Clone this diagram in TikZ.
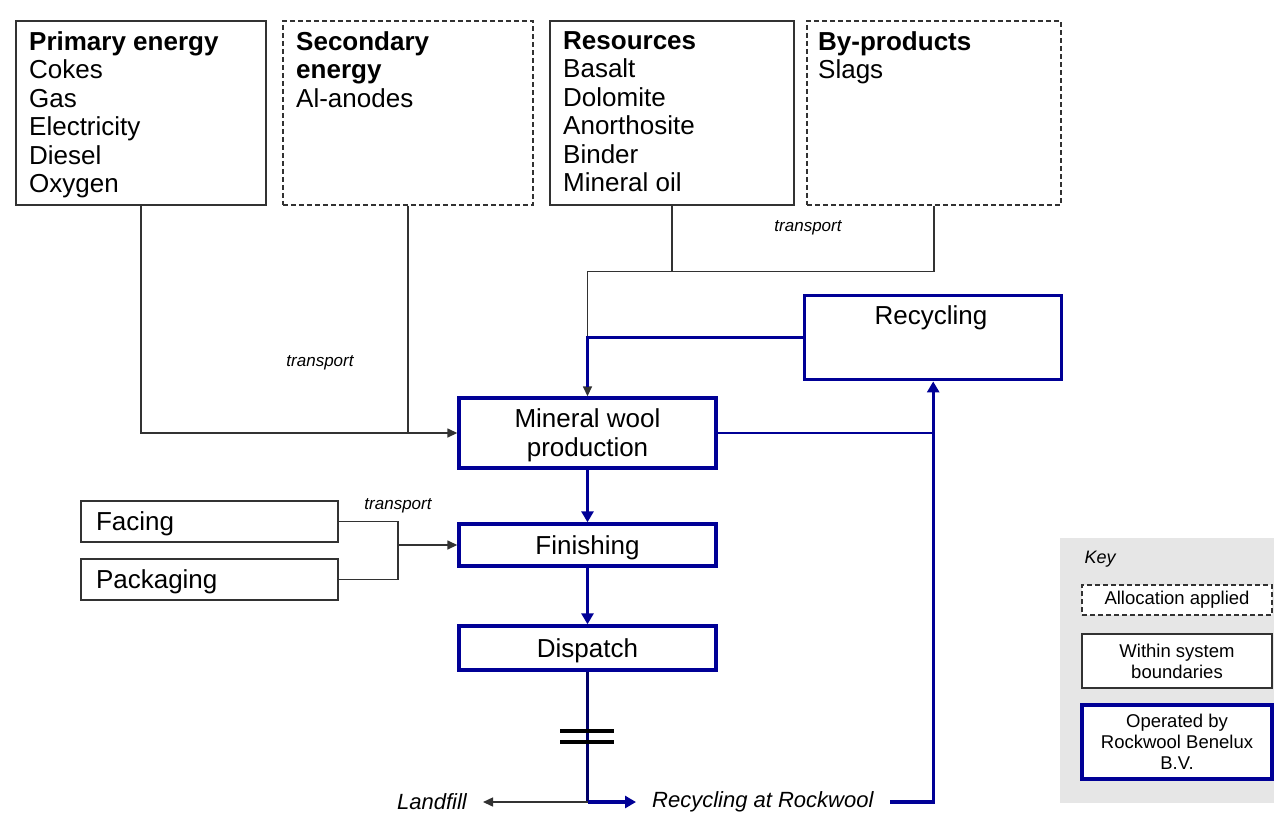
\documentclass[tikz,border=0pt]{standalone}
\usepackage{fontspec}
\setmainfont{Liberation Sans}
\usetikzlibrary{arrows.meta}
\definecolor{navy}{RGB}{0,0,150}
\definecolor{lgray}{RGB}{50,50,50}
\definecolor{keygray}{RGB}{230,230,230}
\begin{document}
\begin{tikzpicture}[x=1pt,y=-1pt,
  tbox/.style={draw=lgray, line width=1.5pt, rectangle, inner sep=0pt, fill=white},
  dbox/.style={tbox, dash pattern=on 5pt off 3pt},
  bbox/.style={draw=navy, line width=3.4pt, rectangle, inner sep=0pt, fill=white},
  toptext/.style={anchor=north west, align=left, inner sep=0pt, font=\fontsize{26}{28.5}\selectfont},
  proc/.style={font=\fontsize{26}{29}\selectfont, align=center, text height=19.6pt, text depth=1pt},
  trans/.style={font=\fontsize{17}{20}\selectfont\itshape, inner sep=0pt},
  keytext/.style={font=\fontsize{18.5}{21}\selectfont, align=center},
  conn/.style={draw=lgray, line width=1.5pt},
  bconn/.style={draw=navy, line width=3.2pt},
  arr/.style={-{Triangle[length=10pt,width=9pt]}},
  barr/.style={-{Triangle[length=11pt,width=12pt]}}]
\useasboundingbox (0,0) rectangle (1274,815);

% key background
\fill[keygray] (1060,538) rectangle (1274,803);

% top boxes
\node[tbox, minimum width=250pt, minimum height=184pt, anchor=north west] (pe) at (15,20) {};
\node[dbox, minimum width=250pt, minimum height=184pt, anchor=north west] (se) at (282,20) {};
\node[tbox, minimum width=244pt, minimum height=184pt, anchor=north west] (res) at (549,20) {};
\node[dbox, minimum width=254pt, minimum height=184pt, anchor=north west] (by) at (806,20) {};
\node[toptext] (pet) at (29,31) {\textbf{Primary energy}\\Cokes\\Gas\\Electricity\\Diesel\\Oxygen};
\node[toptext] (set) at (296,31) {\textbf{Secondary}\\\textbf{energy}\\Al-anodes};
\node[toptext] (rest) at (563,31) {\textbf{Resources}\\Basalt\\Dolomite\\Anorthosite\\Binder\\Mineral oil};
\node[toptext] (byt) at (818,31) {\textbf{By-products}\\Slags};

% process boxes
\node[bbox, minimum width=257pt, minimum height=84pt, anchor=north west] (rec) at (803,294) {};
\node[proc, inner sep=0pt] (rect) at (931,315) {Recycling};
\node[bbox, proc, text height=48.6pt, minimum width=257pt, minimum height=70pt] (mw) at (587.5,433) {Mineral wool\\production};
\node[bbox, proc, minimum width=257pt, minimum height=42pt] (fin) at (587.5,545) {Finishing};
\node[bbox, proc, minimum width=257pt, minimum height=44pt] (dis) at (587.5,648) {Dispatch};

% facing / packaging
\node[tbox, proc, align=left, text width=227pt, inner xsep=15pt, minimum height=41pt] (fac) at (209.5,521.5) {Facing};
\node[tbox, proc, align=left, text width=227pt, inner xsep=15pt, minimum height=41pt] (pac) at (209.5,579.5) {Packaging};

% transport labels
\node[trans] (t1) at (320,363) {transport};
\node[trans] (t2) at (808,228) {transport};
\node[trans] (t3) at (398,506) {transport};

% bottom labels
\node[font=\fontsize{22}{26}\selectfont\itshape, inner sep=0pt, anchor=east] (lf) at (467,802) {Landfill};
\node[font=\fontsize{22}{26}\selectfont\itshape, inner sep=0pt, anchor=west] (rar) at (652,802) {Recycling at Rockwool};

% black connectors
\coordinate (j1) at (407,433);
\draw[conn, arr] (pe.south) |- (mw.west);
\draw[conn] (se.south) -- (se.south |- mw.west);
\path (res.south) ++(0,66) coordinate (j2);
\draw[conn] (res.south) -- (j2);
\draw[conn, arr] (by.south) |- (mw.north |- j2) -- (mw.north);
\coordinate (fj) at (398,545);
\draw[conn] (fac.east) -| (fj) |- (pac.east);
\draw[conn, arr] (fj) -- (fin.west);

% blue connectors
\draw[bconn, shorten >=9pt] (rec.west) -| (mw.north);
\coordinate (rm) at (932,433);
\draw[navy, line width=2.6pt] (mw.east) -- (rm);
\coordinate (rb) at (890,802);
\draw[bconn, barr] (rb) -| (rec.south);
\draw[bconn, barr] (mw.south) -- (fin.north);
\draw[bconn, barr] (fin.south) -- (dis.north);
\coordinate (db) at (587.5,802);
\draw[navy!70!black, line width=3pt] (dis.south) -- (db);
\draw[conn, arr, shorten >=16pt] (db) -- (lf.east);
\draw[bconn, barr, shorten >=16pt] (db) -- (rar.west);
\draw[line width=4pt] (560,731) -- (614,731);
\draw[line width=4pt] (560,742) -- (614,742);

% key
\node[font=\fontsize{18}{21}\selectfont\itshape, inner sep=0pt] (key) at (1100,559) {Key};
\node[dbox, keytext, minimum width=190pt, minimum height=30pt] (ka) at (1177,600) {Allocation applied};
\node[tbox, keytext, minimum width=190pt, minimum height=54pt] (kw) at (1177,661) {Within system\\boundaries};
\node[bbox, keytext, minimum width=190pt, minimum height=74pt] (ko) at (1177,742) {Operated by\\Rockwool Benelux\\B.V.};
\end{tikzpicture}
\end{document}
